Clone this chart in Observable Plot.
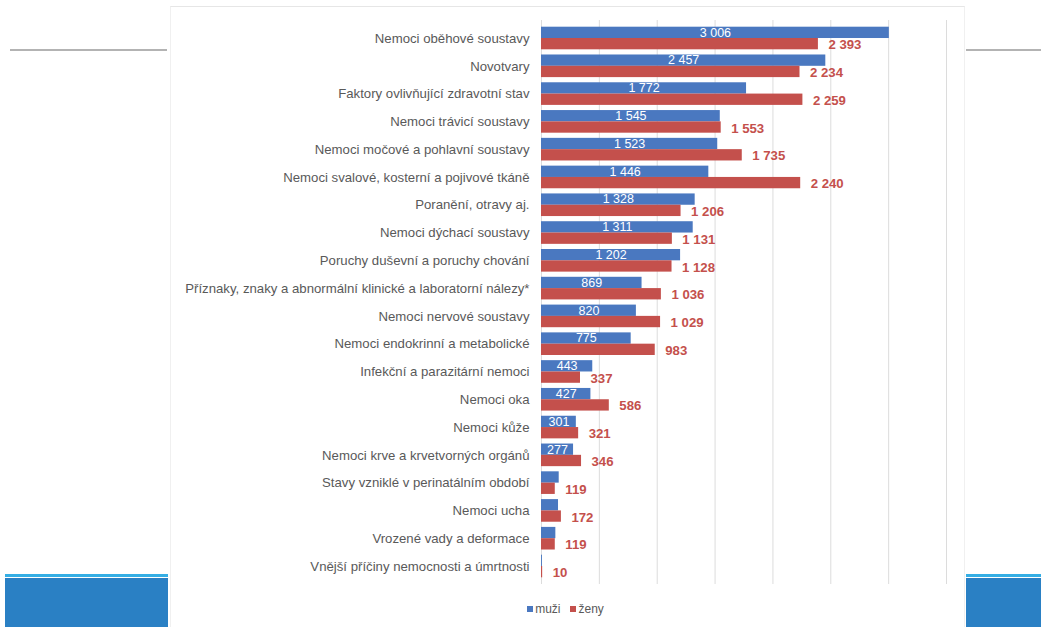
<!DOCTYPE html>
<html>
<head>
<meta charset="utf-8">
<script src="https://cdn.jsdelivr.net/npm/d3@7"></script>
<script src="https://cdn.jsdelivr.net/npm/@observablehq/plot@0.6"></script>
<style>
  html, body { margin: 0; padding: 0; background: #fff; }
  #page { position: relative; width: 1041px; height: 627px; overflow: hidden; font-family: "Liberation Sans", Arial, sans-serif; }
  .deco { position: absolute; }
  #chart { position: absolute; left: 0; top: 0; }
  #legend { position: absolute; top: 602px; left: 0; width: 1041px; text-align: center; font-size: 12px; color: #595959; padding-left: 90px; box-sizing: border-box; }
  #legend .sw { display: inline-block; width: 6px; height: 6px; margin-right: 2px; vertical-align: 1px; }
</style>
</head>
<body>
<div id="page">
  <div class="deco" style="left:10px;top:49px;width:157px;height:2px;background:#b3b3b3"></div>
  <div class="deco" style="left:966px;top:49px;width:75px;height:2px;background:#b3b3b3"></div>
  <div class="deco" style="left:5px;top:574px;width:163px;height:3px;background:#35aee4"></div>
  <div class="deco" style="left:5px;top:578px;width:163px;height:49px;background:#2a80c4"></div>
  <div class="deco" style="left:966px;top:574px;width:75px;height:3px;background:#35aee4"></div>
  <div class="deco" style="left:966px;top:578px;width:75px;height:49px;background:#2a80c4"></div>
  <div class="deco" style="left:170px;top:6px;width:795px;height:621px;background:#fff;border-top:1px solid #e6e6e6;border-left:1px solid #f0f0f0;border-right:1px solid #f0f0f0;box-sizing:border-box"></div>
  <div id="chart"></div>
  <div id="legend"><span class="sw" style="background:#4a78c0"></span>muži&nbsp;&nbsp;&nbsp;<span class="sw" style="background:#c4504c"></span>ženy</div>
</div>
<script>
const categories = [
  "Nemoci oběhové soustavy",
  "Novotvary",
  "Faktory ovlivňující zdravotní stav",
  "Nemoci trávicí soustavy",
  "Nemoci močové a pohlavní soustavy",
  "Nemoci svalové, kosterní a pojivové tkáně",
  "Poranění, otravy aj.",
  "Nemoci dýchací soustavy",
  "Poruchy duševní a poruchy chování",
  "Příznaky, znaky a abnormální klinické a laboratorní nálezy*",
  "Nemoci nervové soustavy",
  "Nemoci endokrinní a metabolické",
  "Infekční a parazitární nemoci",
  "Nemoci oka",
  "Nemoci kůže",
  "Nemoci krve a krvetvorných orgánů",
  "Stavy vzniklé v perinatálním období",
  "Nemoci ucha",
  "Vrozené vady a deformace",
  "Vnější příčiny nemocnosti a úmrtnosti"
];
const muzi = [3006, 2457, 1772, 1545, 1523, 1446, 1328, 1311, 1202, 869, 820, 775, 443, 427, 301, 277, 153, 147, 124, 8];
const zeny = [2393, 2234, 2259, 1553, 1735, 2240, 1206, 1131, 1128, 1036, 1029, 983, 337, 586, 321, 346, 119, 172, 119, 10];
const xTicks = [0, 500, 1000, 1500, 2000, 2500, 3000, 3500];
const shownMuziLabels = [true, true, true, true, true, true, true, true, true, true, true, true, true, true, true, true, false, false, false, false];

const fmt = v => v >= 1000 ? Math.floor(v / 1000) + "\u00a0" + String(v % 1000).padStart(3, "0") : String(v);
const data = categories.map((c, i) => ({c, m: muzi[i], z: zeny[i], showM: shownMuziLabels[i]}));

const blue = "#4a78c0", red = "#c4504c";
const half = 11.3;

const plot = Plot.plot({
  width: 1041,
  height: 590,
  marginLeft: 541,
  marginRight: 95,
  marginTop: 20,
  marginBottom: 6,
  style: {background: "transparent", fontFamily: "'Liberation Sans', Arial, sans-serif", color: "#595959"},
  x: {domain: [0, 3500], axis: null},
  y: {domain: categories, paddingInner: 0.186, paddingOuter: 0.241, round: false, label: null},
  marks: [
    Plot.ruleX(xTicks, {stroke: "#dcdcdc", strokeWidth: 1}),
    Plot.axisY({tickSize: 0, tickPadding: 12, fontSize: 13.2, label: null, fill: "#595959"}),
    Plot.barX(data, {x: "m", y: "c", fill: blue, insetBottom: half}),
    Plot.barX(data, {x: "z", y: "c", fill: red, insetTop: half}),
    Plot.text(data.filter(d => d.showM), {x: d => d.m / 2, y: "c", text: d => fmt(d.m), fill: "white", fontSize: 12.5, dy: -5.8}),
    Plot.text(data, {x: "z", y: "c", text: d => fmt(d.z), fill: red, fontWeight: "bold", fontSize: 13.2, textAnchor: "start", dx: 10, dy: 6.5})
  ]
});
document.getElementById("chart").appendChild(plot);
</script>
</body>
</html>
